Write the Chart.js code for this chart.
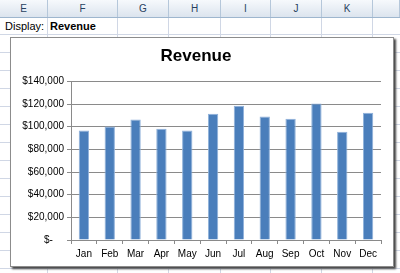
<!DOCTYPE html>
<html>
<head>
<meta charset="utf-8">
<script src="https://cdn.jsdelivr.net/npm/chart.js@4"></script>
<style>
  body { margin: 0; width: 400px; height: 273px; overflow: hidden; position: relative;
         font-family: "Liberation Sans", Arial, sans-serif; background: #fff;
         background-image: repeating-linear-gradient(to bottom, transparent 0, transparent 17px, #d0d7e5 17px, #d0d7e5 18px);
         background-position: 0 17px; }
  .hdr { position: absolute; top: 0; left: 0; width: 400px; height: 17px;
         background: linear-gradient(#f6f9fc, #dce4ee); border-bottom: 1px solid #9eb6ce; }
  .col { position: absolute; top: 0; height: 17px; line-height: 17px; text-align: center;
         font-size: 10px; color: #27415f; border-right: 1px solid #b5c7da; box-sizing: border-box; }
  .vline { position: absolute; top: 18px; width: 1px; height: 255px; background: #d0d7e5; }
  .cell { position: absolute; top: 18px; height: 17px; line-height: 17px; font-size: 11px; color: #000; }
  #box { position: absolute; left: 10px; top: 37px; width: 382px; height: 228px;
         border: 1px solid #8c8c8c; background: #fff; box-shadow: 2px 2px 2px #444; }
</style>
</head>
<body>
<div class="hdr">
  <div class="col" style="left:0;width:48px">E</div>
  <div class="col" style="left:48px;width:70px">F</div>
  <div class="col" style="left:118px;width:51px">G</div>
  <div class="col" style="left:169px;width:52px">H</div>
  <div class="col" style="left:221px;width:50px">I</div>
  <div class="col" style="left:271px;width:51px">J</div>
  <div class="col" style="left:322px;width:51px">K</div>
  <div class="col" style="left:373px;width:27px"></div>
</div>
<div class="vline" style="left:47px"></div>
<div class="vline" style="left:117px"></div>
<div class="vline" style="left:168px"></div>
<div class="vline" style="left:220px"></div>
<div class="vline" style="left:270px"></div>
<div class="vline" style="left:321px"></div>
<div class="vline" style="left:372px"></div>
<div class="cell" style="left:5px">Display:</div>
<div class="cell" style="left:50px;font-weight:bold">Revenue</div>
<div id="box"><canvas id="myChart" width="382" height="228"></canvas></div>
<script>
const months = ["Jan", "Feb", "Mar", "Apr", "May", "Jun", "Jul", "Aug", "Sep", "Oct", "Nov", "Dec"];
const revenue = [96700, 100200, 106400, 98200, 96700, 111400, 118500, 109100, 107000, 120500, 95500, 112300];
const chartTitle = "Revenue";
const yMax = 140000;
const yStep = 20000;

new Chart("myChart", {
  type: "bar",
  data: {
    labels: months,
    datasets: [
      {
        data: revenue,
        backgroundColor: "#4a7ebb",
        borderColor: "#8fb1da",
        borderWidth: 1,
        categoryPercentage: 1,
        barPercentage: 0.4,
      },
    ],
  },
  options: {
    responsive: false,
    animation: false,
    layout: { padding: { left: 0, right: 12, top: 0, bottom: 0 } },
    plugins: {
      legend: { display: false },
      tooltip: { enabled: false },
      title: {
        display: true,
        text: chartTitle,
        color: "#000",
        font: { family: "Liberation Sans", size: 17, weight: "bold", lineHeight: 1.2 },
        padding: { top: 8, bottom: 15 },
      },
    },
    scales: {
      x: {
        grid: { drawOnChartArea: false, drawTicks: true, tickLength: 4, color: "#8a8a8a" },
        border: { color: "#8a8a8a" },
        ticks: { color: "#000", font: { family: "Liberation Sans", size: 10 }, padding: 4 },
        afterFit: (s) => { s.height = 26; },
      },
      y: {
        min: 0,
        max: yMax,
        grid: { color: "#8a8a8a", tickLength: 4 },
        border: { color: "#8a8a8a" },
        ticks: {
          stepSize: yStep,
          color: "#000",
          font: { family: "Liberation Sans", size: 10 },
          padding: 3,
          callback: (v) => (v === 0 ? "$-    " : "$" + v.toLocaleString("en-US")),
        },
        afterFit: (s) => { s.width = 60; },
      },
    },
  },
});
</script>
</body>
</html>
